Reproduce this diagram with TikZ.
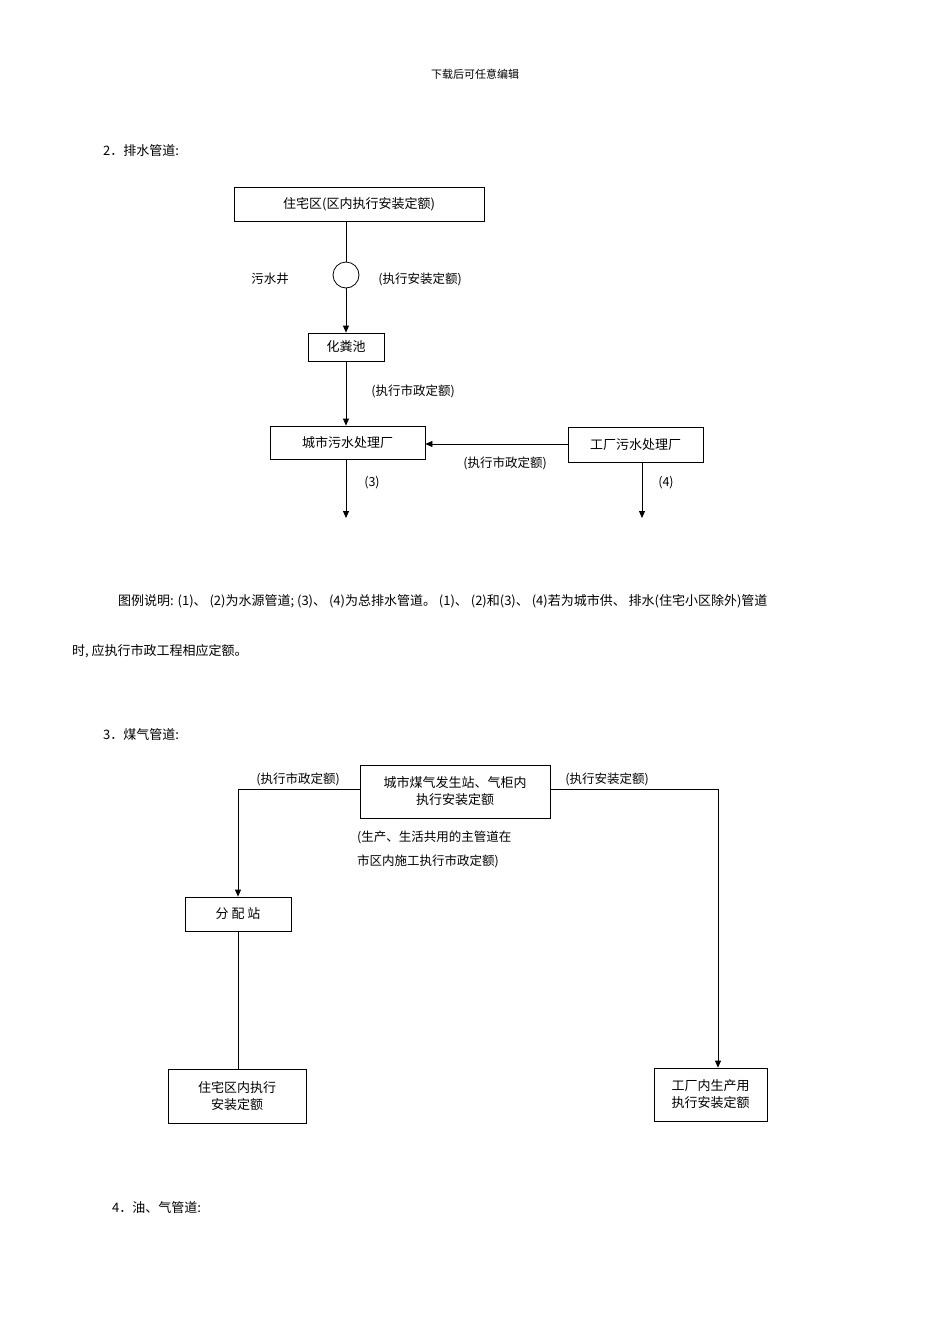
\documentclass[tikz,border=0pt]{standalone}
\usepackage{fontspec}
\setmainfont{Noto Sans CJK SC}
\usetikzlibrary{arrows.meta}
\begin{document}
\begin{tikzpicture}[x=1pt,y=-1pt,
 box/.style={draw,line width=0.8pt,inner sep=0pt,font=\fontsize{13}{17}\selectfont,align=center},
 lbl/.style={inner sep=0pt,font=\fontsize{12.5}{17}\selectfont},
 txt/.style={inner sep=0pt,anchor=west,font=\fontsize{13}{17}\selectfont},
 arr/.style={line width=0.8pt,-{Triangle[length=7pt,width=6pt]}},
 ln/.style={line width=0.8pt}]
\useasboundingbox[fill=white] (0,0) rectangle (950,1344);
\node[inner sep=0pt,font=\fontsize{11}{13}\selectfont] (top) at (475,74) {下载后可任意编辑};
\node[txt] (h2) at (103,151) {2．排水管道:};
% drainage
\node[box,minimum width=250pt,minimum height=34pt] (b1) at (359,204) {住宅区(区内执行安装定额)};
\node[draw,circle,line width=0.8pt,minimum size=26pt,inner sep=0pt] (c) at (346,275) {};
\node[box,minimum width=76pt,minimum height=28pt] (b2) at (346,347) {化粪池};
\node[box,minimum width=155pt,minimum height=33pt] (b3) at (347.5,442.5) {城市污水处理厂};
\node[box,minimum width=135pt,minimum height=35pt] (b4) at (635.5,444.5) {工厂污水处理厂};
\node[lbl] (l1) at (270,279) {污水井};
\node[lbl] (l2) at (420,279) {(执行安装定额)};
\node[lbl] (l3) at (413,391) {(执行市政定额)};
\node[lbl] (l4) at (505,463) {(执行市政定额)};
\node[lbl] (l5) at (372,483) {(3)};
\node[lbl] (l6) at (666,483) {(4)};
\coordinate (e3) at (346,518);
\coordinate (e4) at (642,518);
\draw[ln] (b1.south -| c) -- (c.north);
\draw[arr] (c.south) -- (b2.north);
\draw[arr] (b2.south) -- (b3.north -| b2.south);
\draw[arr] (b4.west |- 0,444) -- (b3.east |- 0,444);
\draw[arr] (b3.south -| e3) -- (e3);
\draw[arr] (b4.south -| e4) -- (e4);
% paragraph
\node[txt] (p1) at (118,601) {图例说明: (1)、 (2)为水源管道; (3)、 (4)为总排水管道。 (1)、 (2)和(3)、 (4)若为城市供、 排水(住宅小区除外)管道};
\node[txt] (p2) at (72,651) {时, 应执行市政工程相应定额。};
\node[txt] (h3) at (103,735) {3．煤气管道:};
% gas
\node[box,minimum width=190pt,minimum height=53pt] (g1) at (455,791.5) {城市煤气发生站、气柜内\\执行安装定额};
\node[box,minimum width=106pt,minimum height=34pt] (g2) at (238,914) {分\ 配\ 站};
\node[box,minimum width=138pt,minimum height=54pt] (g3) at (237,1096) {住宅区内执行\\安装定额};
\node[box,minimum width=113pt,minimum height=53pt] (g4) at (710.5,1094.5) {工厂内生产用\\执行安装定额};
\node[lbl] (m1) at (298,779) {(执行市政定额)};
\node[lbl] (m2) at (607,779) {(执行安装定额)};
\node[lbl,anchor=west,align=left,font=\fontsize{12.5}{24}\selectfont] (m3) at (357,849) {(生产、生活共用的主管道在\\市区内施工执行市政定额)};
\coordinate (jl) at (238,789);
\coordinate (jr) at (718,789);
\draw[arr] (g1.west |- jl) -- (jl) -- (g2.north -| jl);
\draw[arr] (g1.east |- jr) -- (jr) -- (g4.north -| jr);
\draw[ln] (g2.south) -- (g3.north -| g2.south);
\node[txt] (h4) at (112,1208) {4．油、气管道:};
\end{tikzpicture}
\end{document}
